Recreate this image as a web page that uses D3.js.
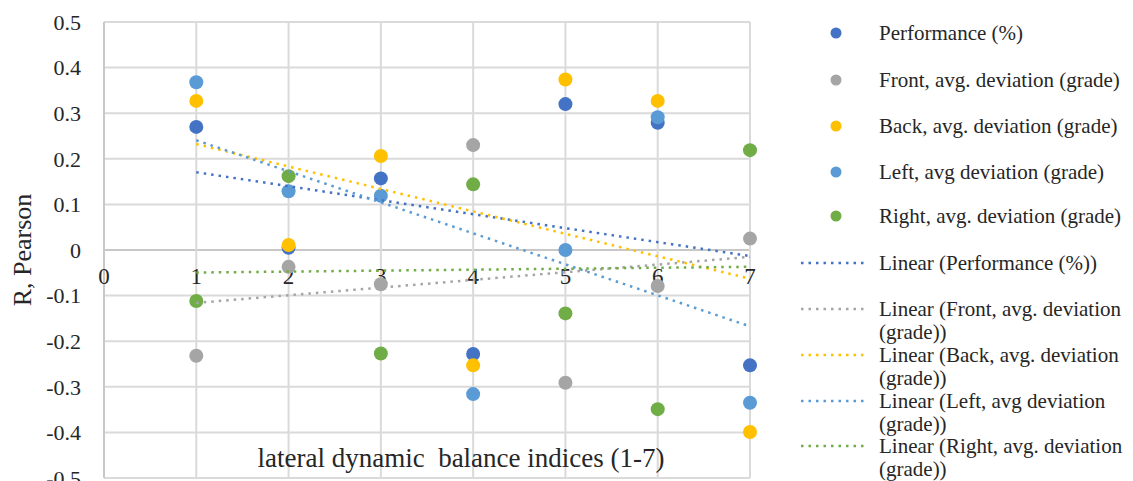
<!DOCTYPE html>
<html>
<head>
<meta charset="utf-8">
<script src="https://cdn.jsdelivr.net/npm/d3@7"></script>
<style>
  body { margin: 0; background: #fff; }
</style>
</head>
<body>
<script>
"use strict";
// indices on the x axis
const indices = [1, 2, 3, 4, 5, 6, 7]
const xTicks = [0, 1, 2, 3, 4, 5, 6, 7]
const yTicks = [-0.5, -0.4, -0.3, -0.2, -0.1, 0, 0.1, 0.2, 0.3, 0.4, 0.5]

// R values
const performance = [0.270, 0.005, 0.157, -0.228, 0.320, 0.279, -0.253]
const front = [-0.232, -0.037, -0.075, 0.230, -0.291, -0.079, 0.025]
const back = [0.327, 0.011, 0.206, -0.253, 0.374, 0.327, -0.399]
const left = [0.368, 0.129, 0.119, -0.316, 0.000, 0.291, -0.335]
const right = [-0.112, 0.162, -0.227, 0.144, -0.139, -0.349, 0.219]

const seriesNames = ["Performance (%)", "Front, avg. deviation (grade)", "Back, avg. deviation (grade)",
    "Left, avg deviation (grade)", "Right, avg. deviation (grade)"]
const trendNames = [["Linear (Performance (%))"], ["Linear (Front, avg. deviation", "(grade))"],
    ["Linear (Back, avg. deviation", "(grade))"], ["Linear (Left, avg deviation", "(grade))"],
    ["Linear (Right, avg. deviation", "(grade))"]]
const seriesColors = ["#4472C4", "#A5A5A5", "#FFC000", "#5B9BD5", "#70AD47"]
const allSeries = [performance, front, back, left, right]

const measurements = { width: 1133, height: 481, left: 104, right: 750, top: 22, bottom: 478 }

const svg = d3.select("body").append("svg")
    .attr("width", measurements.width)
    .attr("height", measurements.height)
    .attr("font-family", "'Liberation Serif', 'Times New Roman', Times, serif")
    .style("font-family", "'Liberation Serif', 'Times New Roman', Times, serif")

const textColor = "#262626"

const scaleX = d3.scaleLinear().domain([0, 7]).range([measurements.left, measurements.right])
const scaleY = d3.scaleLinear().domain([-0.5, 0.5]).range([measurements.bottom, measurements.top])

// gridlines
svg.append("g").selectAll("line").data(yTicks).enter().append("line")
    .attr("x1", measurements.left).attr("x2", measurements.right)
    .attr("y1", d => scaleY(d)).attr("y2", d => scaleY(d))
    .attr("stroke", d => d === 0 ? "#c8c8c8" : "#dadada")
    .attr("stroke-width", 2)
svg.append("g").selectAll("line").data(xTicks).enter().append("line")
    .attr("x1", d => scaleX(d)).attr("x2", d => scaleX(d))
    .attr("y1", measurements.top).attr("y2", measurements.bottom)
    .attr("stroke", d => d === 0 ? "#c8c8c8" : "#dadada")
    .attr("stroke-width", 2)

// y tick labels
svg.append("g").selectAll("text").data(yTicks).enter().append("text")
    .attr("x", 81)
    .attr("y", d => scaleY(d))
    .attr("dy", "0.35em")
    .attr("text-anchor", "end")
    .attr("font-size", 22)
    .attr("fill", textColor)
    .text(d => d === 0 ? "0" : d3.format(".1f")(d).replace("−", "-"))

// x tick labels sit just under the zero line
svg.append("g").selectAll("text").data(xTicks).enter().append("text")
    .attr("x", d => scaleX(d))
    .attr("y", scaleY(-0.058))
    .attr("dy", "0.35em")
    .attr("text-anchor", "middle")
    .attr("font-size", 23)
    .attr("fill", textColor)
    .text(d => d)

// axis titles
svg.append("text")
    .attr("transform", "translate(31,250) rotate(-90)")
    .attr("text-anchor", "middle")
    .attr("font-size", 26)
    .attr("fill", textColor)
    .text("R, Pearson")
svg.append("text")
    .attr("x", 461)
    .attr("y", 467)
    .attr("text-anchor", "middle")
    .attr("font-size", 27)
    .attr("fill", textColor)
    .attr("xml:space", "preserve")
    .text("lateral dynamic  balance indices (1-7)")

// points
allSeries.forEach(function(values, i) {
    svg.append("g").selectAll("circle").data(values).enter().append("circle")
        .attr("cx", (d, j) => scaleX(indices[j]))
        .attr("cy", d => scaleY(d))
        .attr("r", 7)
        .attr("fill", seriesColors[i])
})

// linear trendlines (least squares, like Excel)
function fitLine(values) {
    const mx = d3.mean(indices), my = d3.mean(values)
    let num = 0, den = 0
    indices.forEach((x, j) => { num += (x - mx) * (values[j] - my); den += (x - mx) * (x - mx) })
    const slope = num / den
    return x => my + slope * (x - mx)
}
allSeries.forEach(function(values, i) {
    const f = fitLine(values)
    svg.append("line")
        .attr("x1", scaleX(1)).attr("y1", scaleY(f(1)))
        .attr("x2", scaleX(7)).attr("y2", scaleY(f(7)))
        .attr("stroke", seriesColors[i])
        .attr("stroke-width", 2.5)
        .attr("stroke-dasharray", "2.5 5")
})

// legend
const markerRows = [33, 80, 126, 172, 216]
const trendRows = [263, 309, 355, 401, 446]
seriesNames.forEach(function(name, i) {
    svg.append("circle")
        .attr("cx", 836).attr("cy", markerRows[i]).attr("r", 5.5)
        .attr("fill", seriesColors[i])
    svg.append("text")
        .attr("x", 879).attr("y", markerRows[i]).attr("dy", "0.35em")
        .attr("font-size", 21)
        .attr("fill", textColor)
        .text(name)
})
trendNames.forEach(function(lines, i) {
    svg.append("line")
        .attr("x1", 801).attr("x2", 868)
        .attr("y1", trendRows[i]).attr("y2", trendRows[i])
        .attr("stroke", seriesColors[i])
        .attr("stroke-width", 2.5)
        .attr("stroke-dasharray", "2.5 5")
    lines.forEach(function(line, k) {
        svg.append("text")
            .attr("x", 879).attr("y", trendRows[i] + k * 23).attr("dy", "0.35em")
            .attr("font-size", 21)
            .attr("fill", textColor)
            .text(line)
    })
})
</script>
</body>
</html>
